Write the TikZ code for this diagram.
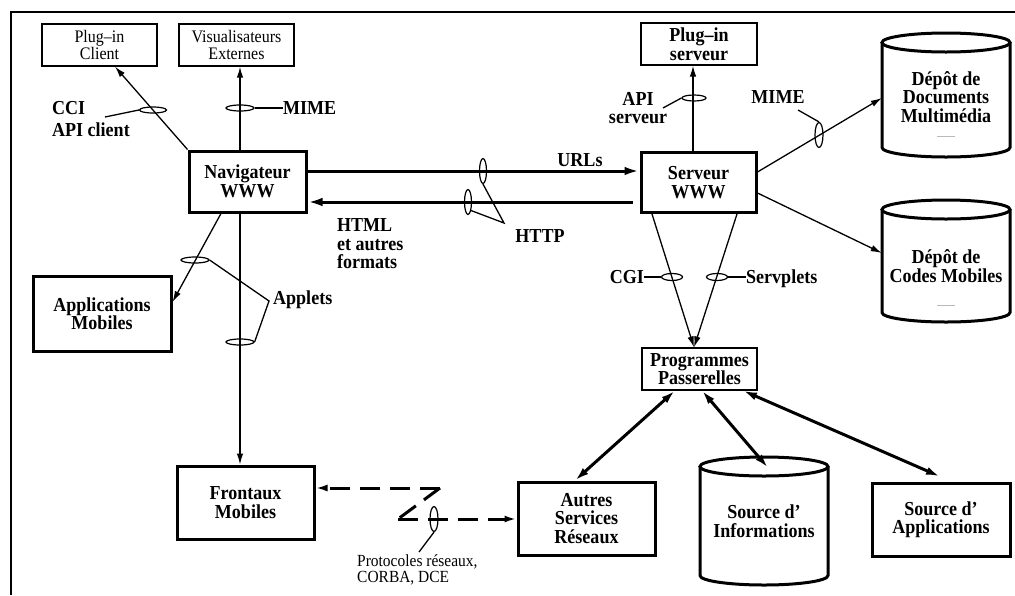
\documentclass[tikz,border=0pt]{standalone}
\usepackage{fontspec}
\setmainfont[FakeStretch=0.91]{Liberation Serif}
\usetikzlibrary{arrows.meta,shapes.geometric,calc}

\begin{document}
\begin{tikzpicture}[x=1pt,y=-1pt,
  boldfont/.style={font=\bfseries\fontsize{19.8}{18.5}\selectfont},
  thinbox/.style={draw, line width=1.3pt, inner sep=0pt, align=center, font=\fontsize{17.6}{16.5}\selectfont},
  thinboldbox/.style={thinbox, boldfont},
  thickbox/.style={draw, line width=3pt, inner sep=0pt, align=center, boldfont},
  cylnode/.style={inner sep=0pt, minimum width=128pt},
  cylline/.style={line width=3pt},
  lbl/.style={inner sep=0pt, align=center, boldfont},
  ring/.style={draw, ellipse, line width=1.2pt, inner sep=0pt},
  thin/.style={line width=1.3pt},
  thinarrow/.style={thin, -{Latex[length=11pt,width=6.5pt]}},
  thickarrow/.style={line width=3pt, -{Latex[length=15pt,width=8.5pt]}},
  duplex/.style={line width=3pt, {Latex[length=14pt,width=8pt]}-{Latex[length=14pt,width=8pt]}},
  dashline/.style={line width=3pt, dash pattern=on 20pt off 10pt},
  dasharrow/.style={dashline, -{Latex[length=12pt,width=7pt]}},
  speck/.style={gray!55, line width=0.8pt}
]
\useasboundingbox (0,0) rectangle (1015,595);

% frame
\draw[line width=2.3pt] (11,595) -- (11,12) -- (1015,12);

% boxes
\node[thinbox, minimum width=115pt, minimum height=42pt] (plugc) at (99.5,45) {Plug--in\\Client};
\node[thinbox, minimum width=115pt, minimum height=42pt] (visu) at (236.5,45) {Visualisateurs\\Externes};
\node[thickbox, minimum width=117pt, minimum height=61pt] (nav) at (247.5,181.5) {Navigateur\\WWW};
\node[thinboldbox, minimum width=116pt, minimum height=42pt] (plugs) at (699,44) {Plug--in\\serveur};
\node[thickbox, minimum width=115pt, minimum height=60pt] (serv) at (698.5,182.5) {Serveur\\WWW};
\node[thinboldbox, minimum width=115pt, minimum height=42pt] (prog) at (699.5,369) {Programmes\\Passerelles};
\node[thickbox, minimum width=138pt, minimum height=75pt] (appmob) at (102,313.5) {Applications\\Mobiles};
\node[thickbox, minimum width=137pt, minimum height=73pt] (front) at (245.5,502.5) {Frontaux\\Mobiles};
\node[thickbox, minimum width=137pt, minimum height=73pt] (autres) at (586.5,518.5) {Autres\\Services\\Réseaux};
\node[thickbox, minimum width=138pt, minimum height=73pt] (srcapp) at (941,519.5) {Source d’\\Applications};

% cylinders
\node[cylnode, minimum height=124pt] (depotdoc) at (946,95) {};
\draw[cylline] (882,42.5) -- (882,147.5) arc[start angle=180, end angle=360, x radius=64pt, y radius=9.5pt] -- (1010,42.5);
\draw[cylline] (946,42.5) ellipse[x radius=64pt, y radius=9.5pt];
\node[lbl] (depotdoctxt) at (946,97) {Dépôt de\\Documents\\Multimédia};
\draw[speck] (937,136) -- (955,136);

\node[cylnode, minimum height=122pt] (depotcode) at (946,261) {};
\draw[cylline] (882,209.5) -- (882,312.5) arc[start angle=180, end angle=360, x radius=64pt, y radius=9.5pt] -- (1010,209.5);
\draw[cylline] (946,209.5) ellipse[x radius=64pt, y radius=9.5pt];
\node[lbl] (depotcodetxt) at (946,266) {Dépôt de\\Codes Mobiles};
\draw[speck] (937,305) -- (955,305);

\node[cylnode, minimum height=128pt] (srcinfo) at (764,521) {};
\draw[cylline] (700,466.5) -- (700,575.5) arc[start angle=180, end angle=360, x radius=64pt, y radius=9.5pt] -- (828,466.5);
\draw[cylline] (764,466.5) ellipse[x radius=64pt, y radius=9.5pt];
\node[lbl] (srcinfotxt) at (764,521) {Source d’\\Informations};

% navigator to client plug-ins
\draw[thinarrow] (nav.north west) -- ([xshift=15.5pt]plugc.south);
\node[ring, minimum width=27pt, minimum height=6pt] (rcci) at (153,110) {};
\coordinate (ccilead) at (105,117);
\draw[thin] (rcci.west) -- (ccilead);
\node[lbl, anchor=west] (cci) at (52,108) {CCI};
\node[lbl, anchor=west] (apiclient) at (52,130) {API client};

% navigator to external viewers
\draw[thinarrow] (240,0 |- nav.north) -- (240,0 |- visu.south);
\node[ring, minimum width=28pt, minimum height=6pt] (rmime) at (240,108) {};
\node[lbl, anchor=west] (mime) at (283,108) {MIME};
\draw[thin] (rmime.east) -- (mime.west);

% HTTP exchanges
\draw[thickarrow] (nav.east |- 0,171) -- (serv.west |- 0,171);
\node[lbl] (urls) at (580,160) {URLs};
\draw[thickarrow] ($(serv.west |- 0,202)+(-7,0)$) -- (nav.east |- 0,202);
\node[ring, minimum width=7pt, minimum height=25pt] (rurl) at (483,171) {};
\node[ring, minimum width=7pt, minimum height=25pt] (rhtml) at (468,202) {};
\coordinate (httplead) at (504,223);
\draw[thin] (rurl.south) -- (httplead) -- (rhtml.-70);
\node[lbl] (http) at (540,236) {HTTP};
\node[lbl, anchor=west, align=left, font=\bfseries\fontsize{19.8}{18.5}\selectfont] (html) at (337,244) {HTML\\et autres\\formats};

% server to server plug-ins
\draw[thinarrow] (693,0 |- serv.north) -- (693,0 |- plugs.south);
\node[ring, minimum width=24pt, minimum height=6pt] (rapi) at (694,98) {};
\coordinate (apilead) at (663,108);
\draw[thin] (rapi.west) -- (apilead);
\node[lbl] (apiserv) at (638,108) {API\\serveur};

% server to repositories
\draw[thinarrow] (serv.east |- 0,172) -- (depotdoc.west |- 0,98);
\node[ring, minimum width=8pt, minimum height=25pt] (rmime2) at (819,135) {};
\coordinate (mime2lead) at (798,110);
\draw[thin] (rmime2.north) -- (mime2lead);
\node[lbl] (mime2) at (778,97) {MIME};
\draw[thinarrow] (serv.east |- 0,193) -- (depotcode.west |- 0,253);

% server to gateway programs
\draw[thinarrow] (652,0 |- serv.south) -- (694,0 |- prog.north);
\draw[thinarrow] (737,0 |- serv.south) -- (694,0 |- prog.north);
\node[ring, minimum width=21pt, minimum height=7pt] (rcgi) at (672,277) {};
\node[ring, minimum width=21pt, minimum height=7pt] (rservl) at (717,277) {};
\node[lbl, anchor=east] (cgi) at (644,277) {CGI};
\node[lbl, anchor=base west] (servplets) at (746,283.5) {Servplets};
\draw[thin] (rcgi.west) -- (cgi.east);
\draw[thin] (rservl.east) -- (servplets.west |- rservl.east);

% gateways to sources
\draw[duplex] ([xshift=-24.5pt]prog.south) -- ([xshift=-11.5pt]autres.north);
\draw[duplex] (702,0 |- prog.south) -- ($(srcinfo.north)+(4,11)$);
\draw[duplex] (743,0 |- prog.south) -- ($(srcapp.north)+(-1,-5)$);

% applets
\draw[thinarrow] (221,0 |- nav.south) -- (appmob.east |- 0,302);
\draw[thinarrow] (240,0 |- nav.south) -- (240,0 |- front.north);
\node[ring, minimum width=28pt, minimum height=6pt] (rapp1) at (195,260) {};
\node[ring, minimum width=28pt, minimum height=6pt] (rapp2) at (240,342) {};
\coordinate (appletlead) at (269,301);
\draw[thin] (rapp1.east) -- (appletlead) -- (rapp2.east);
\node[lbl, anchor=base west] (applets) at (273,304.5) {Applets};

% network protocols
\coordinate (zig1) at (440,488);
\coordinate (zig2) at (398,519);
\draw[dasharrow] (zig1) -- (front.east |- zig1);
\draw[dashline] (zig1) -- (zig2);
\draw[dasharrow] (zig2) -- (autres.west |- zig2);
\node[ring, minimum width=8pt, minimum height=25pt] (rproto) at (434,519) {};
\coordinate (protolead) at (419,552);
\draw[thin] (rproto.south) -- (protolead);
\node[anchor=north west, inner sep=0pt, align=left, font=\fontsize{17}{16}\selectfont] (proto) at (357,554) {Protocoles réseaux,\\CORBA, DCE};
\end{tikzpicture}
\end{document}
